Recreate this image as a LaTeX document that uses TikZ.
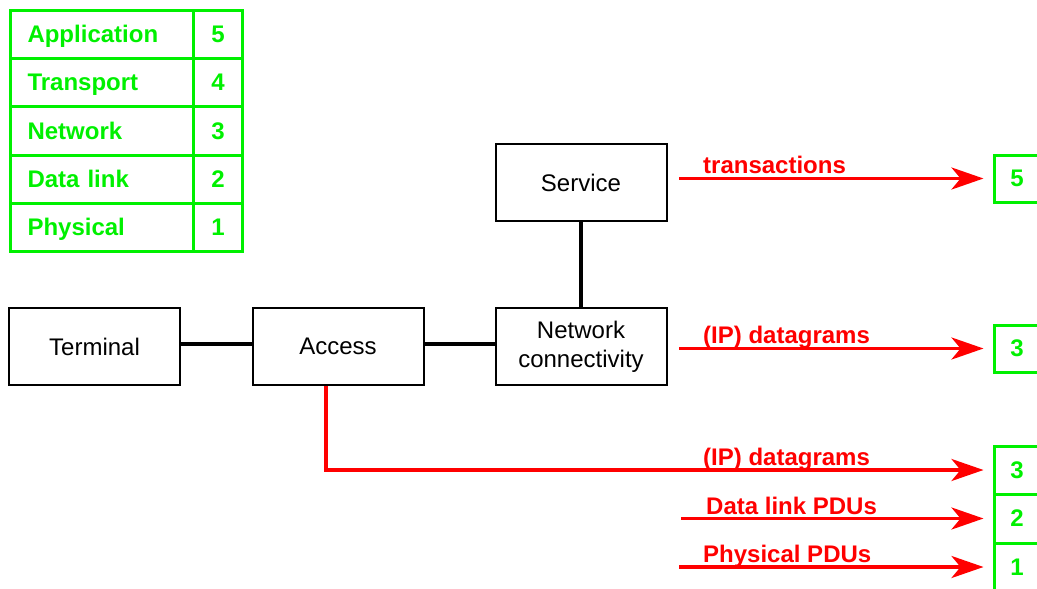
\documentclass[tikz,border=0pt]{standalone}
\usepackage{fontspec}
\setmainfont{Liberation Sans}
\usetikzlibrary{arrows.meta,calc}
\definecolor{gr}{RGB}{0,240,0}
\definecolor{rd}{RGB}{255,0,0}
\begin{document}
\begin{tikzpicture}[x=1pt,y=-1pt,
  gcell/.style={draw=gr,line width=3pt,text=gr,font=\fontsize{24}{29}\selectfont\bfseries,minimum height=48.2pt,inner sep=0pt,anchor=north west,text height=19pt,text depth=3pt},
  lcell/.style={gcell,minimum width=183pt,text width=149pt,align=left,inner xsep=17pt},
  ncell/.style={gcell,minimum width=49pt},
  rbox/.style={draw=gr,line width=3pt,text=gr,font=\fontsize{24}{29}\selectfont\bfseries,minimum width=46pt,inner sep=0pt},
  bbox/.style={draw=black,line width=2pt,minimum width=171pt,minimum height=77pt,inner sep=0pt,font=\fontsize{24}{29}\selectfont,align=center},
  bline/.style={line width=4pt,black},
  rarrow/.style={line width=3.5pt,rd,-{Stealth[length=32pt,width=22pt,inset=9pt]}},
  rlab/.style={text=rd,font=\fontsize{24}{29}\selectfont\bfseries,anchor=base west,inner sep=0pt}
]
\useasboundingbox (0,0) rectangle (1037,589);
\clip (0,0) rectangle (1037,589);
% layer table
\foreach \t/\n/\i in {Application/5/0,Transport/4/1,Network/3/2,Data link/2/3,Physical/1/4}{
  \node[lcell] (l\i) at (9,{9+48.2*\i}) {\t};
  \node[ncell] (n\i) at (192,{9+48.2*\i}) {\n};
}
% black boxes
\node[bbox] (term) at (94.5,346.5) {Terminal};
\node[bbox] (access) at (338,346.5) {Access};
\node[bbox] (net) at (581,346.5) {Network\\connectivity};
\node[bbox] (serv) at (581,182.5) {Service};
\draw[bline] ([yshift=2.5pt]term.east) -- ([yshift=2.5pt]access.west);
\draw[bline] ([yshift=2.5pt]access.east) -- ([yshift=2.5pt]net.west);
\draw[bline] (serv.south) -- (net.north);
% right green boxes
\node[rbox,minimum height=47pt] (r5) at (1017,178.5) {5};
\node[rbox,minimum height=47pt] (r3a) at (1017,348.5) {3};
\node[rbox,minimum height=48pt] (r3b) at (1017,470) {3};
\node[rbox,minimum height=49pt] (r2) at (1017,518.5) {2};
\node[rbox,minimum height=48pt] (r1) at (1017,567) {1};
% red arrows
\coordinate (s5) at (679,178.5);
\coordinate (s3) at (679,348.5);
\coordinate (s2) at (681,518.5);
\coordinate (s1) at (679,567);
\coordinate (acc) at ([xshift=-12pt]access.south);
\draw[rarrow] (s5) -- ([xshift=-9pt]r5.west);
\draw[rarrow] (s3) -- ([xshift=-9pt]r3a.west);
\draw[rarrow] (acc) |- ([xshift=-9pt]r3b.west);
\draw[rarrow] (s2) -- ([xshift=-9pt]r2.west);
\draw[rarrow] (s1) -- ([xshift=-9pt]r1.west);
\node[rlab] (t5) at (703,173) {transactions};
\node[rlab] (t3a) at (703,343) {(IP) datagrams};
\node[rlab] (t3b) at (703,465) {(IP) datagrams};
\node[rlab] (t2) at (706,514) {Data link PDUs};
\node[rlab] (t1) at (703,562) {Physical PDUs};
\end{tikzpicture}
\end{document}
